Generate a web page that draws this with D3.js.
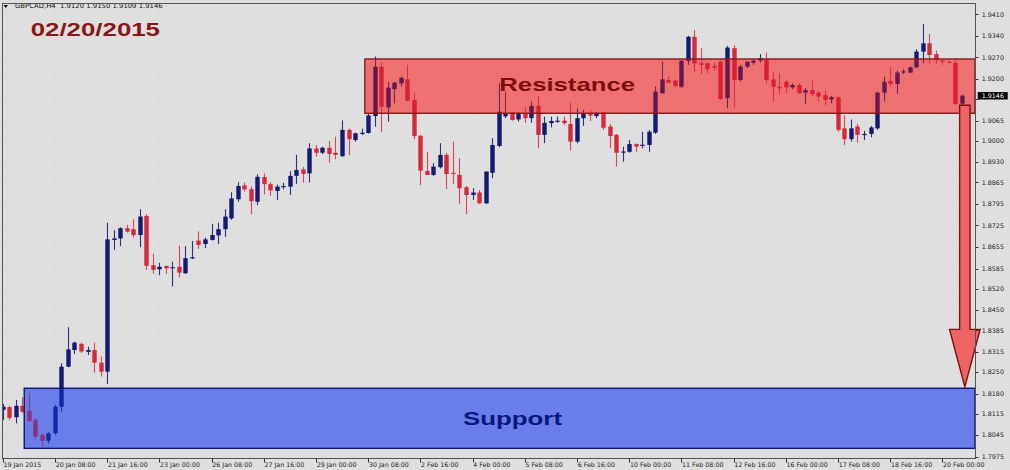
<!DOCTYPE html>
<html><head><meta charset="utf-8">
<script src="https://cdn.jsdelivr.net/npm/d3@7"></script>
<style>
html,body{margin:0;padding:0;background:#dedede;}
svg{display:block;}
</style></head><body>
<svg id="c" width="1010" height="470"></svg>
<script>
// ---- data (GBPCAD H4, 19 Jan 2015 00:00 .. 20 Feb 2015 12:00) ----
const opens = [1.8127,1.8136,1.8103,1.8140,1.8124,1.8094,1.8045,1.8027,1.8051,1.8137,
1.8267,1.8321,1.8341,1.8315,1.8321,1.8280,1.8251,1.8678,1.8683,1.8716,
1.8713,1.8694,1.8756,1.8596,1.8583,1.8594,1.8588,1.8591,1.8570,1.8619,
1.8676,1.8665,1.8678,1.8693,1.8713,1.8748,1.8810,1.8855,1.8843,1.8802,
1.8882,1.8859,1.8837,1.8851,1.8851,1.8886,1.8907,1.8894,1.8975,1.8961,
1.8977,1.8961,1.8950,1.9035,1.9002,1.9022,1.9025,1.9080,1.9240,1.9108,
1.9167,1.9186,1.9199,1.9132,1.9016,1.8902,1.8889,1.8914,1.8954,1.8896,
1.8889,1.8849,1.8824,1.8832,1.8797,1.8896,1.8983,1.9079,1.9092,1.9069,
1.9089,1.9073,1.9113,1.9019,1.9057,1.9063,1.9065,1.9054,1.8997,1.9073,
1.9086,1.9080,1.9092,1.9046,1.9019,1.8962,1.8964,1.8989,1.8984,1.8986,
1.9026,1.9154,1.9197,1.9195,1.9175,1.9259,1.9337,1.9251,1.9251,1.9242,
1.9256,1.9138,1.9300,1.9197,1.9240,1.9253,1.9260,1.9262,1.9199,1.9175,
1.9191,1.9173,1.9181,1.9156,1.9164,1.9156,1.9148,1.9134,1.9141,1.9040,
1.9005,1.9046,1.9021,1.9022,1.9040,1.9156,1.9194,1.9184,1.9222,1.9221,
1.9238,1.9289,1.9316,1.9281,1.9260,1.9256,1.9253,1.9120];
const highs = [1.8146,1.8140,1.8159,1.8168,1.8181,1.8100,1.8051,1.8056,1.8143,1.8278,
1.8395,1.8348,1.8345,1.8332,1.8345,1.8300,1.8734,1.8710,1.8719,1.8727,
1.8745,1.8778,1.8762,1.8633,1.8604,1.8594,1.8608,1.8660,1.8658,1.8675,
1.8706,1.8686,1.8730,1.8734,1.8778,1.8833,1.8865,1.8864,1.8851,1.8891,
1.8894,1.8865,1.8858,1.8863,1.8902,1.8954,1.8915,1.8992,1.8986,1.8981,
1.8999,1.9013,1.9066,1.9040,1.9026,1.9039,1.9088,1.9273,1.9253,1.9191,
1.9191,1.9208,1.9246,1.9156,1.9019,1.8964,1.8927,1.8992,1.8961,1.8997,
1.8943,1.8853,1.8846,1.8840,1.8900,1.9008,1.9186,1.9159,1.9094,1.9094,
1.9110,1.9127,1.9145,1.9078,1.9078,1.9078,1.9078,1.9123,1.9105,1.9100,
1.9100,1.9094,1.9094,1.9054,1.9022,1.8981,1.9002,1.8992,1.9029,1.9035,
1.9176,1.9256,1.9210,1.9199,1.9262,1.9340,1.9359,1.9300,1.9253,1.9253,
1.9260,1.9307,1.9310,1.9246,1.9258,1.9264,1.9281,1.9286,1.9224,1.9219,
1.9197,1.9186,1.9186,1.9170,1.9197,1.9162,1.9162,1.9145,1.9143,1.9083,
1.9069,1.9054,1.9032,1.9048,1.9159,1.9208,1.9240,1.9227,1.9232,1.9240,
1.9297,1.9379,1.9346,1.9292,1.9264,1.9260,1.9267,1.9150];
const lows = [1.8094,1.8094,1.8083,1.8116,1.8087,1.8031,1.8008,1.8018,1.8045,1.8121,
1.8265,1.8308,1.8312,1.8305,1.8248,1.8235,1.8211,1.8646,1.8658,1.8702,
1.8686,1.8655,1.8581,1.8568,1.8564,1.8568,1.8527,1.8556,1.8568,1.8616,
1.8649,1.8652,1.8676,1.8665,1.8688,1.8743,1.8802,1.8835,1.8761,1.8791,
1.8826,1.8821,1.8808,1.8842,1.8824,1.8860,1.8864,1.8865,1.8948,1.8956,
1.8929,1.8940,1.8947,1.8953,1.8997,1.9018,1.9023,1.9045,1.9029,1.9062,
1.9121,1.9175,1.9127,1.9005,1.8856,1.8889,1.8886,1.8910,1.8843,1.8860,
1.8795,1.8762,1.8808,1.8795,1.8795,1.8878,1.8979,1.9073,1.9065,1.9062,
1.9058,1.9058,1.8975,1.8992,1.9043,1.9058,1.9051,1.8968,1.8992,1.9048,
1.9064,1.9073,1.9035,1.8975,1.8916,1.8932,1.8961,1.8964,1.8975,1.8964,
1.9022,1.9152,1.9186,1.9173,1.9170,1.9246,1.9221,1.9216,1.9219,1.9227,
1.9132,1.9105,1.9108,1.9191,1.9235,1.9246,1.9253,1.9186,1.9127,1.9152,
1.9154,1.9167,1.9152,1.9119,1.9143,1.9127,1.9116,1.9121,1.9029,1.8986,
1.8997,1.8994,1.9002,1.9011,1.9035,1.9127,1.9175,1.9152,1.9216,1.9219,
1.9235,1.9251,1.9251,1.9249,1.9246,1.9251,1.9116,1.9109];
const closes = [1.8137,1.8101,1.8140,1.8121,1.8091,1.8040,1.8027,1.8051,1.8137,1.8267,
1.8323,1.8345,1.8316,1.8321,1.8280,1.8251,1.8680,1.8683,1.8716,1.8705,
1.8694,1.8754,1.8594,1.8581,1.8591,1.8586,1.8590,1.8572,1.8619,1.8622,
1.8662,1.8680,1.8694,1.8713,1.8754,1.8813,1.8853,1.8842,1.8804,1.8883,
1.8859,1.8839,1.8851,1.8853,1.8886,1.8905,1.8892,1.8975,1.8961,1.8977,
1.8957,1.8954,1.9035,1.9005,1.9024,1.9026,1.9082,1.9240,1.9110,1.9172,
1.9188,1.9204,1.9130,1.9015,1.8903,1.8889,1.8916,1.8954,1.8892,1.8892,
1.8846,1.8824,1.8832,1.8797,1.8900,1.8986,1.9094,1.9090,1.9067,1.9089,
1.9073,1.9113,1.9019,1.9058,1.9064,1.9065,1.9057,1.8997,1.9073,1.9089,
1.9081,1.9089,1.9042,1.9015,1.8961,1.8965,1.8989,1.8981,1.8987,1.9029,
1.9159,1.9199,1.9188,1.9178,1.9259,1.9337,1.9251,1.9246,1.9232,1.9237,
1.9135,1.9302,1.9197,1.9240,1.9256,1.9259,1.9267,1.9197,1.9175,1.9170,
1.9173,1.9181,1.9154,1.9164,1.9151,1.9143,1.9132,1.9141,1.9035,1.9005,
1.9040,1.9019,1.9022,1.9043,1.9156,1.9191,1.9184,1.9221,1.9225,1.9238,
1.9289,1.9316,1.9278,1.9262,1.9256,1.9253,1.9119,1.9146];

const yTicks = [1.9410,1.9340,1.9270,1.9200,1.9135,1.9065,1.9000,1.8930,1.8865,1.8795,1.8725,
1.8655,1.8585,1.8520,1.8450,1.8385,1.8315,1.8250,1.8180,1.8115,1.8045,1.7975];
const xTickIdx = [0,8,16,24,32,40,48,56,64,72,80,88,96,104,112,120,128,136,144];
const xTickLabels = ["19 Jan 2015","20 Jan 08:00","21 Jan 16:00","23 Jan 00:00","26 Jan 08:00",
"27 Jan 16:00","29 Jan 00:00","30 Jan 08:00","2 Feb 16:00","4 Feb 00:00","5 Feb 08:00",
"6 Feb 16:00","10 Feb 00:00","11 Feb 08:00","12 Feb 16:00","16 Feb 00:00","17 Feb 08:00",
"18 Feb 16:00","20 Feb 00:00"];
const headerText = "GBPCAD,H4  1.9120 1.9150 1.9109 1.9146";
const dateTitle = "02/20/2015";
const lastPrice = 1.9146;
const resistanceZone = [1.9089, 1.9265];
const supportZone = [1.8002, 1.8197];
const zoneStartIdx = {resistance: 55.5, support: 3.3};
const arrowLevels = [1.9115, 1.8388, 1.8202]; // shaft top, head base, tip
const arrowIdx = 147.45;

// ---- layout ----
const svg = d3.select("#c");
const plot = {l: 2, r: 975, t: 3, b: 458};
const x = d3.scaleLinear().domain([0, 147]).range([2.7, 961.9]);
const y = d3.scaleLinear().domain([1.7975, 1.9410]).range([456.7, 14.3]);
const bars = d3.range(opens.length).map(i => ({i, o: opens[i], h: highs[i], l: lows[i], c: closes[i]}));

svg.append("rect").attr("width", 1010).attr("height", 470).attr("fill", "#dfdfdf");

const defs = svg.append("defs");
defs.append("clipPath").attr("id", "pc").append("rect")
  .attr("x", plot.l).attr("y", plot.t).attr("width", plot.r - plot.l).attr("height", plot.b - plot.t);

const g = svg.append("g").attr("clip-path", "url(#pc)");

// grid (very faint dotted)
g.selectAll("line.gy").data(yTicks).join("line")
  .attr("x1", plot.l).attr("x2", plot.r)
  .attr("y1", d => Math.round(y(d)) + 0.5).attr("y2", d => Math.round(y(d)) + 0.5)
  .attr("stroke", "#d3d3d3").attr("stroke-dasharray", "1,3");
g.selectAll("line.gx").data(xTickIdx).join("line")
  .attr("y1", plot.t).attr("y2", plot.b)
  .attr("x1", d => Math.round(x(d)) + 0.5).attr("x2", d => Math.round(x(d)) + 0.5)
  .attr("stroke", "#d3d3d3").attr("stroke-dasharray", "1,3");

// zone fills behind candles
function zoneRect(sel, zone, startIdx) {
  return sel.append("rect")
    .attr("x", x(startIdx)).attr("y", y(zone[1]))
    .attr("width", plot.r - x(startIdx)).attr("height", y(zone[0]) - y(zone[1]));
}
zoneRect(g, resistanceZone, zoneStartIdx.resistance).attr("fill", "#f7b0aa");
zoneRect(g, supportZone, zoneStartIdx.support).attr("fill", "#9da8e9");

// candles
const bw = 4.4;
const cg = g.append("g");
cg.selectAll("line.w").data(bars).join("line")
  .attr("x1", d => Math.round(x(d.i)) + 0.5).attr("x2", d => Math.round(x(d.i)) + 0.5)
  .attr("y1", d => y(d.h)).attr("y2", d => y(d.l))
  .attr("stroke", d => d.c >= d.o ? "#2b3282" : "#d6475a").attr("stroke-width", 1.1);
cg.selectAll("rect.b").data(bars).join("rect")
  .attr("x", d => Math.round(x(d.i)) + 0.5 - bw / 2)
  .attr("y", d => y(Math.max(d.o, d.c)))
  .attr("width", bw)
  .attr("height", d => Math.max(1.2, Math.abs(y(d.o) - y(d.c))))
  .attr("fill", d => d.c >= d.o ? "#131a70" : "#d42a3c");

// zone tint overlays + borders
zoneRect(g, resistanceZone, zoneStartIdx.resistance).attr("fill", "rgb(225,20,30)").attr("opacity", 0.4);
zoneRect(g, supportZone, zoneStartIdx.support).attr("fill", "rgb(30,60,230)").attr("opacity", 0.4);
zoneRect(svg, resistanceZone, zoneStartIdx.resistance).attr("fill", "none")
  .attr("stroke", "#8a1818").attr("stroke-width", 1.4);
zoneRect(svg, supportZone, zoneStartIdx.support).attr("fill", "none")
  .attr("stroke", "#0e1670").attr("stroke-width", 1.4);

// zone labels
svg.append("text").text("Resistance")
  .attr("x", 499.3).attr("y", 90.7)
  .attr("font-family", "Liberation Sans, Arial, sans-serif").attr("font-weight", "bold")
  .attr("font-size", 18.5).attr("textLength", 135.7).attr("lengthAdjust", "spacingAndGlyphs")
  .attr("fill", "#7d0d0d");
svg.append("text").text("Support")
  .attr("x", 463).attr("y", 425)
  .attr("font-family", "Liberation Sans, Arial, sans-serif").attr("font-weight", "bold")
  .attr("font-size", 18.5).attr("textLength", 99).attr("lengthAdjust", "spacingAndGlyphs")
  .attr("fill", "#0c1680");

// arrow
const ax = x(arrowIdx), sw = 5.2, hw = 15.3;
const arrowPts = [
  [ax - sw, y(arrowLevels[0])], [ax + sw, y(arrowLevels[0])],
  [ax + sw, y(arrowLevels[1])], [ax + hw, y(arrowLevels[1])],
  [ax, y(arrowLevels[2])],
  [ax - hw, y(arrowLevels[1])], [ax - sw, y(arrowLevels[1])]
];
svg.append("path").attr("d", d3.line()(arrowPts) + "Z")
  .attr("fill", "#ee6464").attr("stroke", "#7a1212").attr("stroke-width", 1.4)
  .attr("stroke-linejoin", "miter");

// title texts
svg.append("text").text(dateTitle)
  .attr("x", 30.7).attr("y", 36)
  .attr("font-family", "Liberation Sans, Arial, sans-serif").attr("font-weight", "bold")
  .attr("font-size", 18.5).attr("textLength", 129.3).attr("lengthAdjust", "spacingAndGlyphs")
  .attr("fill", "#8b1515");
svg.append("path").attr("d", "M3.5,5 L8,5 L5.75,8 Z").attr("fill", "#111");
svg.append("text").text(headerText)
  .attr("x", 15).attr("y", 8.3).attr("xml:space", "preserve")
  .attr("font-family", "DejaVu Sans, sans-serif").attr("font-size", 6.3)
  .attr("textLength", 147.7).attr("lengthAdjust", "spacingAndGlyphs")
  .attr("fill", "#111");

// plot border
svg.append("rect").attr("x", plot.l + 0.5).attr("y", plot.t + 0.5)
  .attr("width", plot.r - plot.l).attr("height", plot.b - plot.t)
  .attr("fill", "none").attr("stroke", "#555").attr("stroke-width", 1);

// right axis
const ya = svg.append("g");
ya.selectAll("line").data(yTicks).join("line")
  .attr("x1", plot.r + 0.5).attr("x2", plot.r + 3.5)
  .attr("y1", d => Math.round(y(d)) + 0.5).attr("y2", d => Math.round(y(d)) + 0.5)
  .attr("stroke", "#333");
ya.selectAll("text").data(yTicks.filter(d => d !== 1.9135)).join("text")
  .text(d => d.toFixed(4))
  .attr("x", 981.7).attr("y", d => y(d) + 2.2)
  .attr("font-family", "DejaVu Sans, sans-serif").attr("font-size", 6.3)
  .attr("textLength", 22.3).attr("lengthAdjust", "spacingAndGlyphs")
  .attr("fill", "#222");
// last price label
svg.append("rect").attr("x", 977.7).attr("y", y(lastPrice) - 3.6).attr("width", 30).attr("height", 7.4)
  .attr("fill", "#000");
svg.append("text").text(lastPrice.toFixed(4))
  .attr("x", 981.7).attr("y", y(lastPrice) + 2.3)
  .attr("font-family", "DejaVu Sans, sans-serif").attr("font-size", 6.3)
  .attr("textLength", 22.3).attr("lengthAdjust", "spacingAndGlyphs")
  .attr("fill", "#fff");

// bottom axis
const xa = svg.append("g");
xa.selectAll("line").data(xTickIdx).join("line")
  .attr("x1", d => Math.round(x(d)) + 0.5).attr("x2", d => Math.round(x(d)) + 0.5)
  .attr("y1", plot.b + 0.5).attr("y2", plot.b + 4.5)
  .attr("stroke", "#333");
xa.selectAll("text").data(xTickIdx).join("text")
  .text((d, k) => xTickLabels[k])
  .attr("x", d => x(d) + 0.8).attr("y", 467)
  .attr("font-family", "DejaVu Sans, sans-serif").attr("font-size", 6.3)
  .attr("fill", "#222");
</script>
</body></html>
